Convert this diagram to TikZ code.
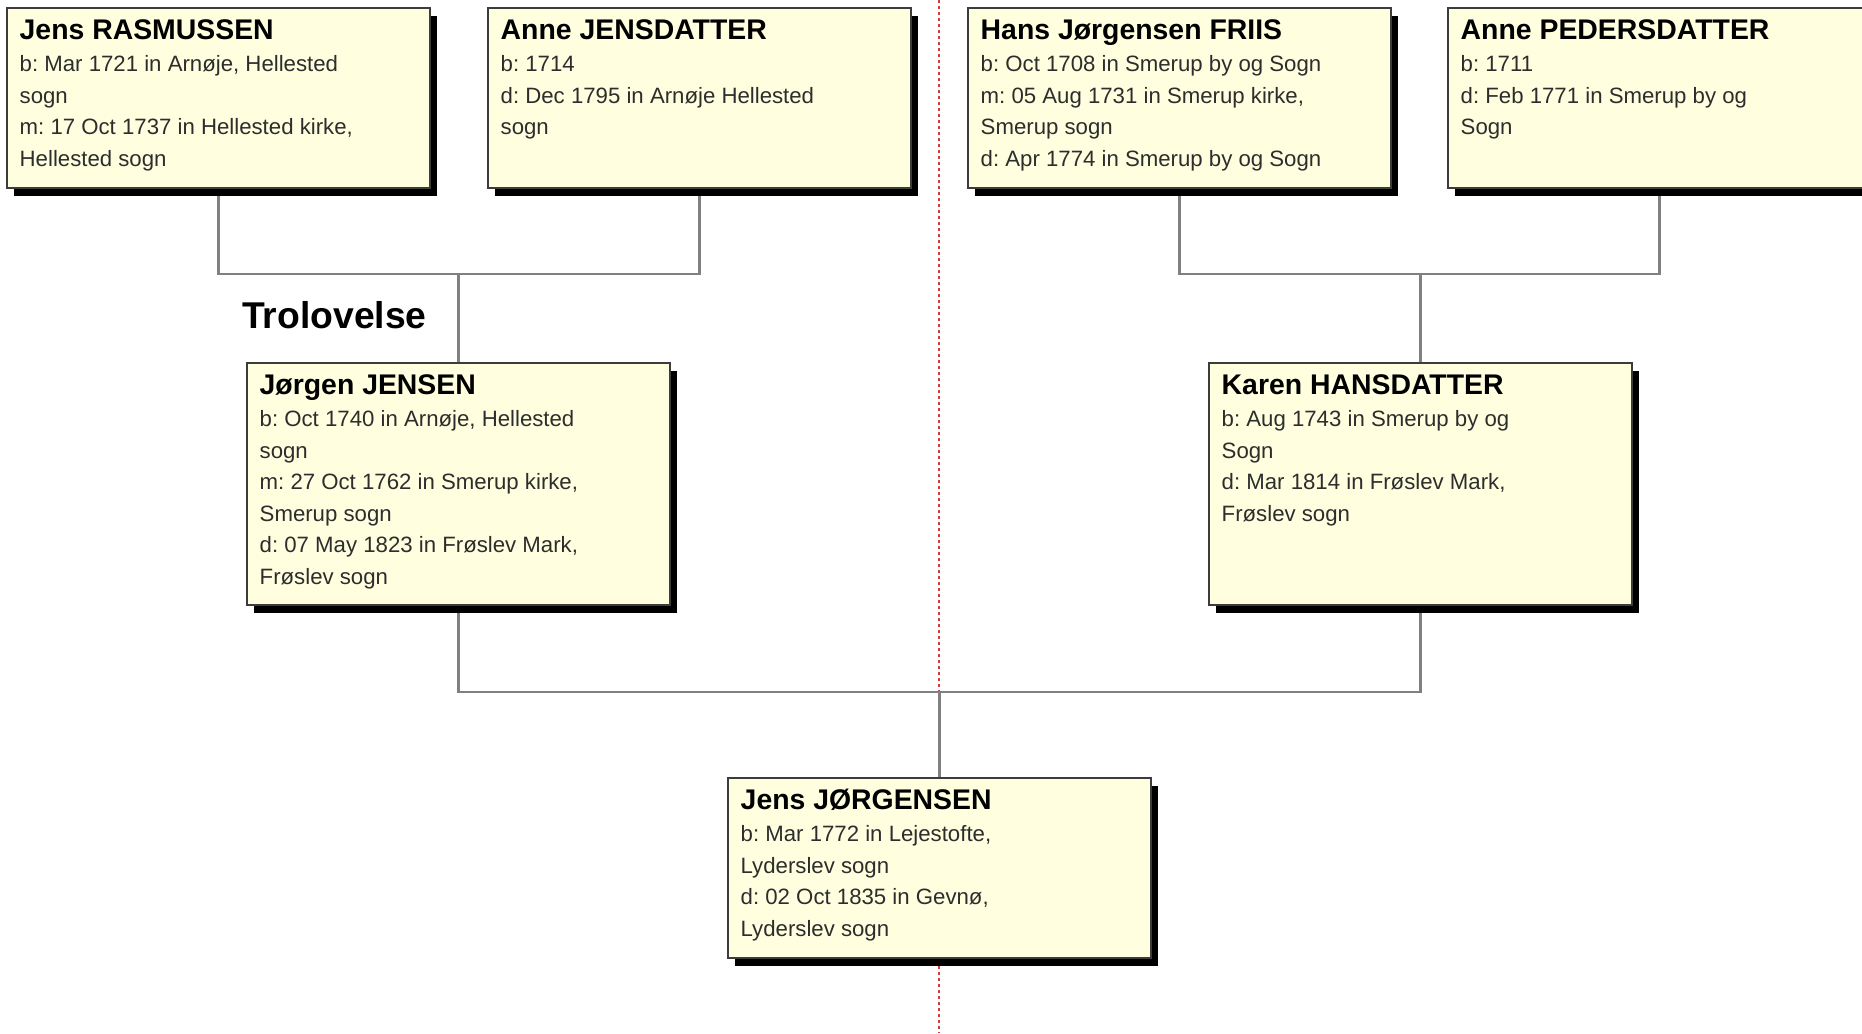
\documentclass[tikz,border=0pt]{standalone}
\usepackage{fontspec}
\setmainfont{Liberation Sans}
\usetikzlibrary{shadows,calc,backgrounds}
\frenchspacing
\definecolor{boxfill}{RGB}{255,255,224}
\definecolor{boxline}{RGB}{60,60,60}
\definecolor{conngray}{RGB}{128,128,128}
\definecolor{txtgray}{RGB}{45,45,45}
\definecolor{guidered}{RGB}{215,60,60}
\tikzset{
  person/.style={draw=boxline, line width=1.8pt, fill=boxfill, anchor=north west,
    minimum width=423pt, inner sep=0pt,
    drop shadow={shadow xshift=7pt, shadow yshift=-8pt, fill=black, opacity=1}},
  ptitle/.style={anchor=base west, inner sep=0pt, text=black,
    font=\bfseries\fontsize{28.4}{30}\selectfont},
  pline/.style={anchor=base west, inner sep=0pt, text=txtgray,
    font=\fontsize{22.2}{26}\selectfont},
  connline/.style={draw=conngray, line width=2.4pt},
  guideline/.style={draw=guidered, line width=1.3pt, dash pattern=on 3pt off 3pt},
  eventlabel/.style={anchor=base west, inner sep=0pt, text=black,
    font=\bfseries\fontsize{37.3}{40}\selectfont}
}
\newcommand\personbox[6]{%
  \node[person, minimum height=#4pt] (#1) at (#2,#3) {};
  \node[ptitle] (#1-t) at ($(#1.north west)+(13.5,32.5)$) {#5};
  \foreach \ln [count=\i] in {#6} {%
    \node[pline] (#1-\i) at ($(#1.north west)+(13.5,{64.5+(\i-1)*31.5})$) {\ln};}%
}
\begin{document}
\begin{tikzpicture}[x=1pt,y=-1pt]
\useasboundingbox (0,0) rectangle (1862,1033);
\clip (0,0) rectangle (1862,1033);

\personbox{b1}{6}{7}{180}{Jens RASMUSSEN}{{b: Mar 1721 in Arnøje, Hellested},{sogn},{m: 17 Oct 1737 in Hellested kirke,},{Hellested sogn}}
\personbox{b2}{487}{7}{180}{Anne JENSDATTER}{{b: 1714},{d: Dec 1795 in Arnøje Hellested},{sogn}}
\personbox{b3}{967}{7}{180}{Hans Jørgensen FRIIS}{{b: Oct 1708 in Smerup by og Sogn},{m: 05 Aug 1731 in Smerup kirke,},{Smerup sogn},{d: Apr 1774 in Smerup by og Sogn}}
\personbox{b4}{1447}{7}{180}{Anne PEDERSDATTER}{{b: 1711},{d: Feb 1771 in Smerup by og},{Sogn}}
\personbox{b5}{246}{362}{242}{Jørgen JENSEN}{{b: Oct 1740 in Arnøje, Hellested},{sogn},{m: 27 Oct 1762 in Smerup kirke,},{Smerup sogn},{d: 07 May 1823 in Frøslev Mark,},{Frøslev sogn}}
\personbox{b6}{1208}{362}{242}{Karen HANSDATTER}{{b: Aug 1743 in Smerup by og},{Sogn},{d: Mar 1814 in Frøslev Mark,},{Frøslev sogn}}
\personbox{b7}{727}{777}{180}{Jens JØRGENSEN}{{b: Mar 1772 in Lejestofte,},{Lyderslev sogn},{d: 02 Oct 1835 in Gevnø,},{Lyderslev sogn}}

\node[eventlabel] (trol) at (242,328) {Trolovelse};

\begin{scope}[on background layer]
  \coordinate (gtop) at (939,0);
  \coordinate (gbot) at (939,1033);
  \draw[guideline] (gtop) -- (gbot);
  \coordinate (m1) at (b5.north |- 0,274);
  \coordinate (m2) at (b6.north |- 0,274);
  \coordinate (m3) at (b7.north |- 0,692);
  \draw[connline] (b1.south) |- (m1) -| (b2.south);
  \draw[connline] (m1) -- (b5.north);
  \draw[connline] (b3.south) |- (m2) -| (b4.south);
  \draw[connline] (m2) -- (b6.north);
  \draw[connline] (b5.south) |- (m3) -| (b6.south);
  \draw[connline] (m3) -- (b7.north);
\end{scope}
\end{tikzpicture}
\end{document}
